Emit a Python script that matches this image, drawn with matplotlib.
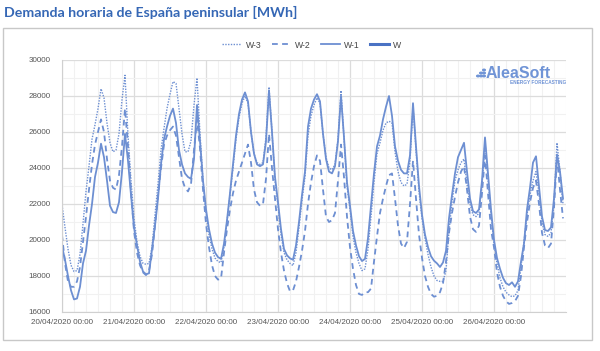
import matplotlib
matplotlib.use("Agg")
import matplotlib.pyplot as plt
from matplotlib.patches import Rectangle, Circle
from matplotlib.lines import Line2D
import numpy as np

title = "Demanda horaria de España peninsular [MWh]"
series_names = ["W-3", "W-2", "W-1", "W"]
tick_labels = ["20/04/2020 00:00", "21/04/2020 00:00", "22/04/2020 00:00",
               "23/04/2020 00:00", "24/04/2020 00:00", "25/04/2020 00:00",
               "26/04/2020 00:00"]
y_ticks = [16000, 18000, 20000, 22000, 24000, 26000, 28000, 30000]

w3 = [
    21950, 20700, 19500, 18600, 18250, 18300, 19200, 20900, 22700, 24100, 25600, 26400,
    27300, 28400, 27900, 26500, 25400, 24900, 25000, 25900, 27800, 29150, 25800, 23300,
    21200, 19900, 19100, 18700, 18650, 18700, 19600, 21400, 23100, 25000, 26200, 27300,
    28100, 28800, 28700, 27300, 25900, 24900, 24900, 25500, 27500, 29000, 25900, 23300,
    21500, 20300, 19500, 19000, 18800, 18750, 19600, 21000, 22500, 24000, 25600, 26800,
    27600, 28000, 27600, 26000, 24800, 24300, 24200, 24300, 25700, 28500, 26000, 23300,
    21900, 20300, 19300, 18900, 18700, 18580, 19300, 20700, 22200, 23500, 25800, 26900,
    27500, 27900, 27600, 25900, 24600, 24000, 23900, 24200, 25600, 28300, 25600, 23000,
    21700, 20200, 19300, 18700, 18300, 18400, 19500, 21300, 23200, 24800, 25400, 26100,
    26500, 26600, 26500, 24900, 23800, 23200, 23000, 23100, 24400, 27400, 25000, 22700,
    21200, 20100, 19200, 18500, 18000, 17750, 17700, 17700, 18300, 20500, 22100, 23300,
    23900, 24300, 24500, 23100, 22000, 21400, 21300, 21500, 23000, 25400, 23400, 21400,
    19800, 18700, 17900, 17400, 17100, 16950, 16850, 16900, 17200, 18500, 19900, 21400,
    22500, 23300, 23800, 22600, 21000, 20300, 20200, 20400, 22000, 25400, 23800, 22000,
]
w2 = [
    20280, 18700, 17700, 17400, 17400, 17700, 18500, 19900, 21300, 22800, 24200, 25300,
    26000, 26700, 26000, 24500, 23300, 22900, 22800, 23600, 25200, 27300, 25200, 22700,
    20500, 19300, 18600, 18200, 18050, 18300, 19200, 20800, 22500, 24000, 25300, 25800,
    26100, 26300, 25800, 24600, 23400, 22900, 22700, 23100, 25000, 26700, 25100, 22800,
    20900, 19600, 18600, 18000, 17800, 17850, 19300, 20600, 21700, 22600, 23300, 23800,
    24300, 24800, 25300, 24300, 22800, 22100, 21900, 22000, 23400, 25900, 24000, 22300,
    20600, 19300, 18300, 17600, 17150, 17200, 17700, 18500, 19400, 20500, 22000, 23200,
    24100, 24700, 24400, 22800, 21300, 21000, 21100, 21500, 23300, 25300, 23500, 21300,
    19600, 18400, 17500, 17000, 16950, 17100, 17100, 17300, 18800, 20200, 21500, 22300,
    23000, 23600, 23700, 22300, 20800, 19800, 19550, 19900, 22000, 24400, 22300, 20300,
    19000, 18000, 17400, 17000, 16850, 16900, 17100, 17600, 18800, 20400, 21500, 22400,
    23200, 23800, 24100, 22800, 21300, 20600, 20450, 20800, 22600, 24700, 22600, 20600,
    19600, 18200, 17400, 16900, 16600, 16450, 16500, 16600, 16900, 18000, 19600, 21000,
    22100, 22900, 23300, 22000, 20400, 19700, 19550, 19800, 21800, 24600, 22800, 21200,
]
w1 = [
    19650, 18900, 18000, 17200, 16700, 16750, 17400, 18700, 19400, 20800, 22000, 23500,
    24300, 25350, 24600, 23300, 21900, 21550, 21500, 22100, 23800, 25900, 24400, 22500,
    20700, 19700, 18800, 18250, 18100, 18150, 19500, 20800, 22300, 24200, 25600, 26300,
    26900, 27300, 26500, 25000, 24200, 23700, 23500, 23400, 24500, 27500, 25500, 23300,
    21700, 20600, 19800, 19300, 19050, 18950, 19800, 21100, 22600, 24200, 25800, 27000,
    27800, 28200, 27700, 26000, 24800, 24200, 24100, 24200, 25500, 28300, 26000, 23500,
    22100, 20600, 19500, 19150, 18980, 18900, 19700, 21000, 22500, 23800, 26300, 27300,
    27800, 28100, 27700, 25900, 24500, 23800, 23700, 24100, 25500, 28000, 25700, 23200,
    21900, 20500, 19700, 19100, 18830, 18950, 20100, 21900, 23700, 25200, 25800, 26700,
    27400, 28000, 26900, 25200, 24400, 23900, 23700, 23700, 24700, 27600, 25200, 23000,
    21400, 20300, 19600, 19100, 18850, 18700, 18500, 18750, 19400, 21200, 22500, 23700,
    24600, 25000, 25400, 23800, 22300, 21600, 21500, 21700, 23300, 25700, 23700, 21700,
    20000, 19000, 18400, 17900, 17600, 17500, 17650, 17400, 17700, 18800, 19800, 21700,
    22900, 24300, 24650, 23000, 21300, 20550, 20500, 20700, 22300, 24750, 23800, 22300,
]
w = []  # current week: no values drawn

W_PX, H_PX = 600, 351
fig = plt.figure(figsize=(W_PX / 100, H_PX / 100), dpi=100)
fig.patch.set_facecolor("white")

def fx(px):
    return px / W_PX

def fy(py):
    return 1 - py / H_PX

# outer frame
fig.patches.append(Rectangle((fx(3), fy(340)), fx(592) - fx(3), fy(28) - fy(340),
                             transform=fig.transFigure, fill=False,
                             edgecolor="#c8c8c8", linewidth=1.0))

fig.text(fx(4), fy(12), title, fontsize=10.2, fontweight="bold", family="Lato",
         color="#3567b5", va="center", ha="left")

left, right, top, bottom = 62, 566, 60, 312
ax = fig.add_axes([fx(left), fy(bottom), fx(right) - fx(left), fy(top) - fy(bottom)])

line_color = "#6d8fd2"
hours = np.arange(len(w1))
ax.plot(np.arange(len(w3)), w3, color=line_color, lw=1.0, linestyle=(0, (1, 1)))
ax.plot(np.arange(len(w2)), w2, color=line_color, lw=1.3, linestyle=(0, (3.2, 2.4)))
ax.plot(hours, w1, color=line_color, lw=1.3)
ax.plot(np.arange(len(w)), w, color="#4a72c4", lw=2.2)

ax.set_xlim(0, 168)
ax.set_ylim(16000, 30000)
ax.set_xticks(np.arange(0, 168, 24))
ax.set_xticklabels(tick_labels)
ax.set_xticks(np.arange(0, 169, 4), minor=True)
ax.set_yticks(y_ticks)
ax.set_yticks(np.arange(16000, 30001, 1000), minor=True)
ax.grid(which="minor", color="#f1f1f1", lw=0.8)
ax.grid(which="major", color="#dcdcdc", lw=0.9)
ax.set_axisbelow(True)
for s in ["top", "right"]:
    ax.spines[s].set_visible(False)
ax.spines["left"].set_color("#d0d0d0")
ax.spines["bottom"].set_color("#d0d0d0")
ax.tick_params(which="both", length=0)
ax.tick_params(axis="x", labelsize=5.8, labelcolor="#555555", pad=5)
ax.tick_params(axis="y", labelsize=5.8, labelcolor="#555555", pad=8)
for lbl in ax.get_xticklabels() + ax.get_yticklabels():
    lbl.set_family("Liberation Sans")

handles = [
    Line2D([], [], color=line_color, lw=1.0, linestyle=(0, (1, 1))),
    Line2D([], [], color=line_color, lw=1.3, linestyle=(0, (3.2, 2.4))),
    Line2D([], [], color=line_color, lw=1.3),
    Line2D([], [], color="#4a72c4", lw=2.2),
]
leg = fig.legend(handles, series_names, loc="center", bbox_to_anchor=(fx(312), fy(45)),
                 ncol=4, frameon=False, handlelength=2.2, handletextpad=0.5,
                 columnspacing=1.2, prop={"family": "Liberation Sans", "size": 6.2})
for t in leg.get_texts():
    t.set_color("#444444")

# watermark logo
logo_color = "#7094d6"
fig.text(fx(551), fy(73), "AleaSoft", fontsize=11.5, fontweight="bold",
         family="Liberation Sans", color=logo_color, ha="right", va="center")
fig.text(fx(566), fy(82), "ENERGY FORECASTING", fontsize=3.4, fontweight="bold",
         family="Liberation Sans", color=logo_color, ha="right", va="center")
for (dx, dy) in [(478, 76), (481, 76), (484, 76), (484, 73), (484, 70), (481, 73)]:
    fig.patches.append(Circle((fx(dx), fy(dy)), 0.0022, transform=fig.transFigure,
                              color=logo_color))

fig.savefig("out.png", dpi=100, facecolor="white")
